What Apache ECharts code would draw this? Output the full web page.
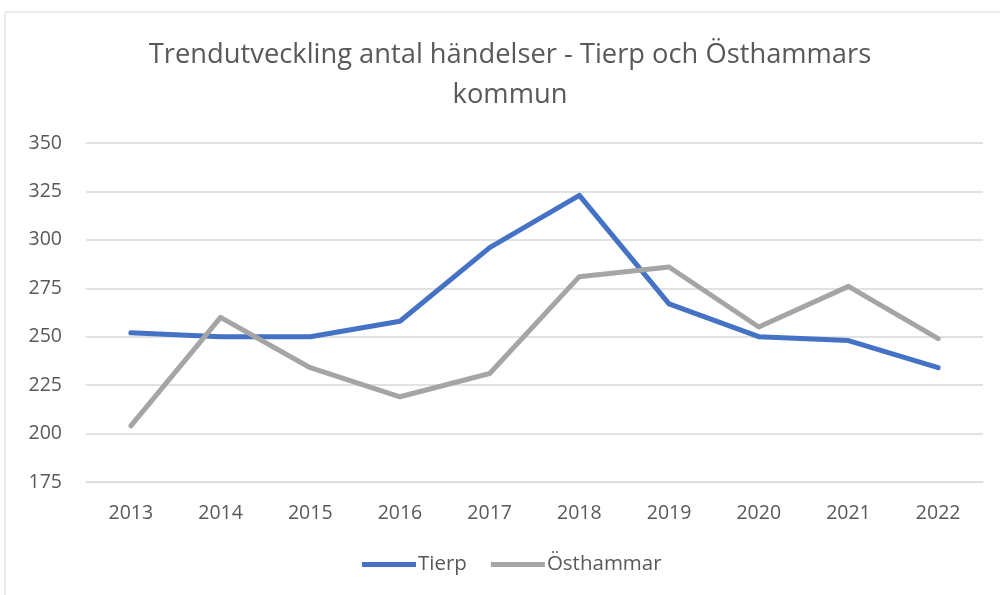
<!DOCTYPE html>
<html>
<head>
<meta charset="utf-8">
<script src="https://cdn.jsdelivr.net/npm/echarts@6/dist/echarts.min.js"></script>
<style>
  html, body { margin: 0; padding: 0; background: #fff; }
  #chart { width: 1000px; height: 595px; }
</style>
</head>
<body>
<div id="chart"></div>
<script>
// årtal och värden
const years = ['2013', '2014', '2015', '2016', '2017', '2018', '2019', '2020', '2021', '2022']
const tierp = [252, 250, 250, 258, 296, 323, 267, 250, 248, 234]
const osthammar = [204, 260, 234, 219, 231, 281, 286, 255, 276, 249]
const seriesNames = ['Tierp', 'Östhammar']

const fontFamily = '"Open Sans", sans-serif'

const chart = echarts.init(document.getElementById('chart'))
chart.setOption({
  animation: false,
  color: ['#4472C4', '#A5A5A5'],
  graphic: [{
    type: 'rect',
    shape: { x: 5, y: 12, width: 1000, height: 600 },
    style: { fill: 'none', stroke: '#d9d9d9', lineWidth: 1 },
    silent: true
  }],
  title: {
    text: 'Trendutveckling antal händelser - Tierp och Östhammars\nkommun',
    left: 505,
    top: 30,
    textAlign: 'center',
    textStyle: {
      fontFamily: fontFamily,
      fontWeight: 'normal',
      fontSize: 27.3,
      lineHeight: 40,
      color: '#595959'
    }
  },
  legend: {
    data: seriesNames,
    bottom: 15,
    left: 357,
    itemWidth: 54,
    itemHeight: 5,
    itemGap: 24,
    icon: 'rect',
    textStyle: { fontFamily: fontFamily, fontSize: 20.5, color: '#595959', padding: [0, 0, 0, -3] }
  },
  grid: {
    left: 86,
    right: 17,
    top: 143,
    bottom: 113,
    containLabel: false
  },
  xAxis: {
    type: 'category',
    data: years,
    boundaryGap: true,
    axisLine: { show: true, lineStyle: { color: '#d9d9d9' } },
    axisTick: { show: false },
    axisLabel: { fontFamily: fontFamily, fontSize: 19.5, color: '#595959', margin: 21 }
  },
  yAxis: {
    type: 'value',
    min: 175,
    max: 350,
    interval: 25,
    axisLine: { show: false },
    axisTick: { show: false },
    axisLabel: { fontFamily: fontFamily, fontSize: 19.5, color: '#595959', margin: 24 },
    splitLine: { lineStyle: { color: '#d9d9d9', width: 1.5 } }
  },
  series: [
    {
      name: seriesNames[0],
      type: 'line',
      data: tierp,
      symbol: 'none',
      lineStyle: { width: 5, cap: 'round', join: 'round' }
    },
    {
      name: seriesNames[1],
      type: 'line',
      data: osthammar,
      symbol: 'none',
      lineStyle: { width: 5, cap: 'round', join: 'round' }
    }
  ]
})
</script>
</body>
</html>
